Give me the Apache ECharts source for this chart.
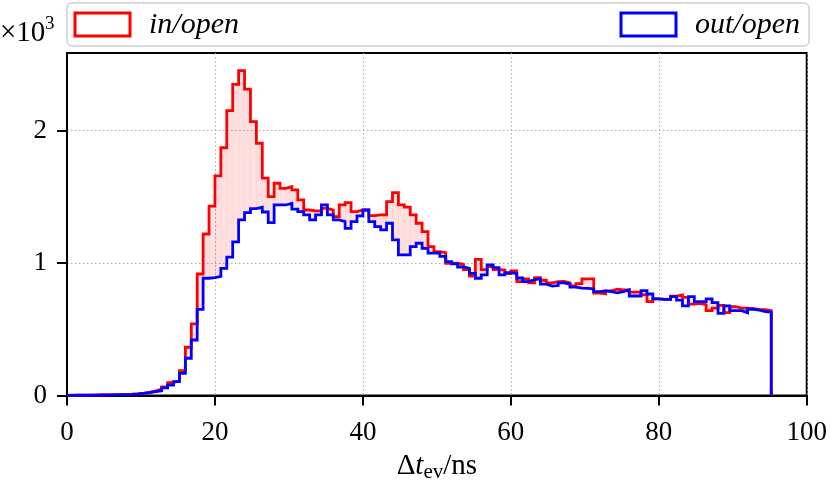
<!DOCTYPE html>
<html>
<head>
<meta charset="utf-8">
<script src="https://cdn.jsdelivr.net/npm/echarts@6/dist/echarts.min.js"></script>
<style>
html,body{margin:0;padding:0;background:#fff;}
#chart{width:830px;height:498px;}
</style>
</head>
<body>
<div id="chart"></div>
<script>
// Histogram binning (ns)
const binStart = 0;
const binWidth = 0.8;
// Counts per bin, "in/open"
const inOpen = [
  2,2,3,3,4,4,5,6,7,8,
  10,13,18,25,35,48,65,97,112,187,
  364,540,917,1219,1430,1657,1870,2150,2348,2452,
  2312,2067,1904,1640,1501,1602,1564,1577,1552,1476,
  1400,1393,1393,1413,1400,1350,1438,1456,1388,1400,
  1400,1358,1363,1363,1463,1531,1438,1421,1363,1300,
  1237,1124,1086,1078,998,998,990,950,902,1028,
  950,972,950,947,920,940,859,880,850,890,
  870,850,859,862,850,828,845,880,880,772,
  766,790,802,797,797,780,780,760,708,730,
  726,726,750,759,740,690,696,685,640,660,
  680,625,670,660,660,655,650,648,640
];
// Counts per bin, "out/open"
const outOpen = [
  1,2,2,3,3,4,4,5,6,7,
  9,12,16,21,29,36,57,79,104,167,
  281,419,650,885,890,900,960,1045,1160,1325,
  1380,1410,1420,1385,1305,1438,1438,1451,1406,1388,
  1363,1325,1363,1438,1363,1325,1312,1262,1312,1355,
  1400,1312,1275,1250,1300,1174,1061,1061,1124,1149,
  1111,1074,1074,1050,1010,993,970,960,922,885,
  910,985,965,910,927,920,887,860,875,880,
  840,825,830,850,840,818,810,809,805,784,
  790,784,775,784,797,751,751,791,766,730,
  726,726,746,720,676,746,708,708,730,701,
  620,676,640,640,625,651,645,633,630
];
const xTicks = [0, 20, 40, 60, 80, 100];
const yTicks = [0, 1000, 2000];
const yScale = 1000;

function stepPoints(vals) {
  const pts = [];
  vals.forEach((v, k) => {
    const x0 = binStart + k * binWidth;
    pts.push([x0, v], [x0 + binWidth, v]);
  });
  pts.push([binStart + vals.length * binWidth, 0]);
  return pts;
}
const fillData = inOpen.map((v, k) => {
  const x0 = binStart + k * binWidth;
  return [x0, x0 + binWidth, Math.min(v, outOpen[k]), Math.max(v, outOpen[k])];
});

const FONT = 'Liberation Serif';
const chart = echarts.init(document.getElementById('chart'), null, {renderer: 'canvas'});
chart.setOption({
  animation: false,
  backgroundColor: '#fff',
  grid: {left: 67, right: 21, top: 53, bottom: 102.5, show: true, borderColor: '#000', borderWidth: 2, backgroundColor: 'transparent'},
  xAxis: {
    type: 'value', min: 0, max: 100, interval: 20,
    axisLine: {show: true, lineStyle: {color: '#000', width: 2}},
    axisTick: {show: true, inside: false, length: 10, lineStyle: {color: '#000', width: 2}, customValues: xTicks},
    axisLabel: {color: '#000', fontFamily: FONT, fontSize: 27, margin: 24, customValues: xTicks},
    splitLine: {show: true, lineStyle: {color: '#aaa', width: 1, type: [1.5, 2.5]}},
    name: '{d|Δ}{t|t}{s|ev}{d|/ns}',
    nameLocation: 'middle', nameGap: 52,
    nameTextStyle: {
      rich: {
        d: {fontFamily: FONT, fontSize: 29, color: '#000', lineHeight: 34},
        t: {fontFamily: FONT, fontSize: 29, fontStyle: 'italic', color: '#000', lineHeight: 34},
        s: {fontFamily: FONT, fontSize: 21, color: '#000', lineHeight: 16, verticalAlign: 'bottom'}
      }
    }
  },
  yAxis: {
    type: 'value', min: 0, max: 2585,
    axisLine: {show: true, lineStyle: {color: '#000', width: 2}},
    axisTick: {show: true, inside: false, length: 10, lineStyle: {color: '#000', width: 2}, customValues: yTicks},
    axisLabel: {color: '#000', fontFamily: FONT, fontSize: 27, margin: 20, customValues: yTicks,
      formatter: v => (v % yScale === 0 ? String(v / yScale) : '')},
    splitLine: {show: true, lineStyle: {color: '#aaa', width: 1, type: [1.5, 2.5]}}
  },
  graphic: [
    {type: 'text', left: 0, top: 19, z: 10, style: {text: '×10', fontFamily: FONT, fontSize: 29, fill: '#000'}},
    {type: 'text', left: 45, top: 15, z: 10, style: {text: '3', fontFamily: FONT, fontSize: 19, fill: '#000'}},
    {type: 'rect', z: 10, shape: {x: 67, y: 3, width: 742, height: 43, r: 5}, style: {fill: '#fff', stroke: '#d0d0d0', lineWidth: 1.5}},
    {type: 'rect', z: 11, shape: {x: 75, y: 13, width: 55, height: 23}, style: {fill: '#fff', stroke: '#ff0000', lineWidth: 3}},
    {type: 'text', z: 11, x: 149, y: 25, style: {text: 'in/open', fontFamily: FONT, fontStyle: 'italic', fontSize: 30, fill: '#000', verticalAlign: 'middle'}},
    {type: 'rect', z: 11, shape: {x: 621, y: 13, width: 55, height: 23}, style: {fill: '#fff', stroke: '#0000ff', lineWidth: 3}},
    {type: 'text', z: 11, x: 800, y: 25, style: {text: 'out/open', fontFamily: FONT, fontStyle: 'italic', fontSize: 30, fill: '#000', verticalAlign: 'middle', align: 'right'}}
  ],
  series: [
    {
      type: 'custom', name: 'diff', z: 1, silent: true,
      data: fillData,
      encode: {x: [0, 1], y: [2, 3]},
      renderItem: function (params, api) {
        const p0 = api.coord([api.value(0), api.value(3)]);
        const p1 = api.coord([api.value(1), api.value(2)]);
        return {type: 'rect', shape: {x: p0[0], y: p0[1], width: p1[0] - p0[0] + 0.4, height: p1[1] - p0[1]},
          style: {fill: 'rgba(255,0,0,0.12)'}};
      }
    },
    {
      type: 'line', name: 'in/open', z: 3, data: stepPoints(inOpen), showSymbol: false, clip: true,
      lineStyle: {color: '#ff0000', width: 2.8, join: 'miter'}
    },
    {
      type: 'line', name: 'out/open', z: 4, data: stepPoints(outOpen), showSymbol: false, clip: true,
      lineStyle: {color: '#0000ff', width: 2.8, join: 'miter'}
    }
  ]
});
</script>
</body>
</html>
